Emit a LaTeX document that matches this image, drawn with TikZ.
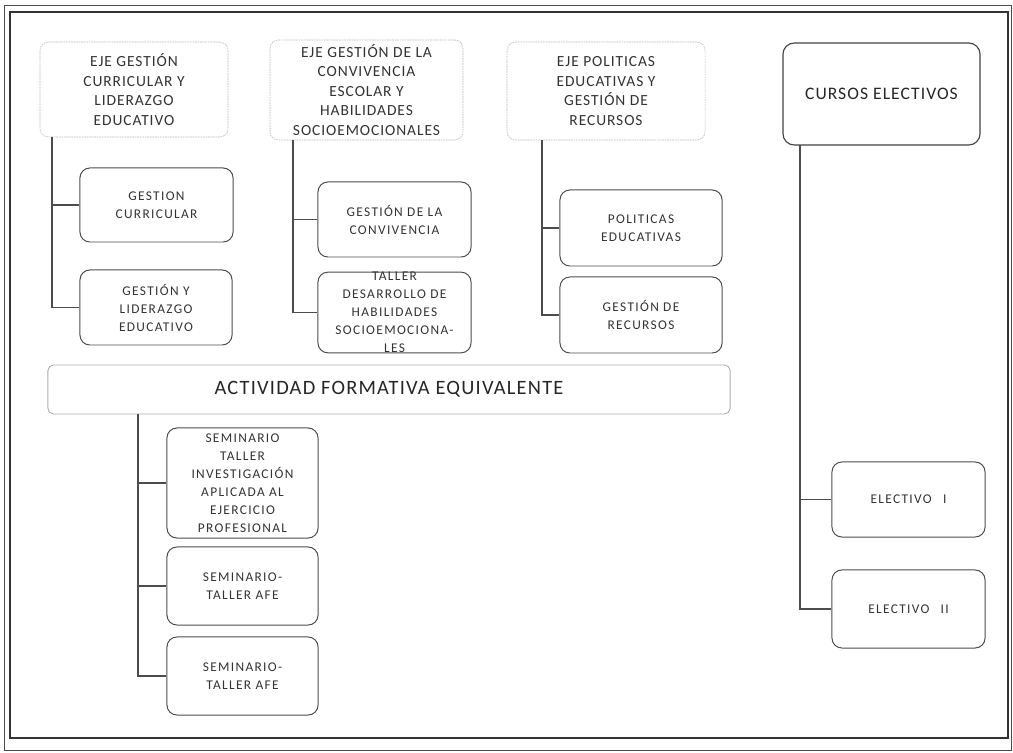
\documentclass[tikz,border=0pt]{standalone}
\usepackage{fontspec}
\setmainfont{Carlito}
\newfontfamily\spaced[LetterSpace=6]{Carlito}
\newfontfamily\wspaced[LetterSpace=10]{Carlito}
\begin{document}
\begin{tikzpicture}[x=0.025cm,y=-0.025cm,
  hdr/.style={draw=gray!55, dash pattern=on 1.2pt off 0.6pt, rounded corners=6pt, align=center, text=black!80, font=\spaced\fontsize{11}{13.8}\selectfont, inner sep=0pt},
  hdrsolid/.style={draw=black!75, line width=0.8pt, rounded corners=8pt, align=center, text=black!85, font=\spaced\fontsize{12.5}{14}\selectfont, inner sep=0pt},
  subbox/.style={draw=black!70, line width=0.7pt, rounded corners=7pt, align=center, text=black!80, font=\wspaced\fontsize{9.5}{12.8}\selectfont, inner sep=0pt},
  wide/.style={draw=gray!65, line width=0.6pt, rounded corners=4pt, align=center, text=black!85, font=\spaced\fontsize{14.5}{16}\selectfont, inner sep=0pt},
  link/.style={draw=black!70, line width=0.9pt}]
\useasboundingbox (0,0) rectangle (1013,753);
% frame
\draw[black!70, line width=0.5pt] (4,5) rectangle (1011,750);
\draw[black!80, line width=1pt] (10,12) rectangle (1008,738);
% headers
\node[hdr, minimum width=4.7cm, minimum height=2.375cm] (h1) at (134,89.5)
  {EJE GESTIÓN\\CURRICULAR  Y\\LIDERAZGO\\EDUCATIVO};
\node[hdr, minimum width=4.825cm, minimum height=2.5cm] (h2) at (366.5,90)
  {EJE GESTIÓN  DE LA\\CONVIVENCIA\\ESCOLAR  Y\\HABILIDADES\\SOCIOEMOCIONALES};
\node[hdr, minimum width=4.95cm, minimum height=2.45cm] (h3) at (606,91)
  {EJE POLITICAS\\EDUCATIVAS  Y\\GESTIÓN  DE\\RECURSOS};
\node[hdrsolid, minimum width=4.925cm, minimum height=2.55cm] (h4) at (881.5,94)
  {CURSOS ELECTIVOS};
% children column 1
\node[subbox, minimum width=3.825cm, minimum height=1.85cm] (c11) at (156.5,205)
  {GESTION\\CURRICULAR};
\node[subbox, minimum width=3.8cm, minimum height=1.875cm] (c12) at (156,307.5)
  {GESTIÓN Y\\LIDERAZGO\\EDUCATIVO};
% column 2
\node[subbox, minimum width=3.825cm, minimum height=1.875cm] (c21) at (394.5,219.5)
  {GESTIÓN DE LA\\CONVIVENCIA};
\node[subbox, minimum width=3.825cm, minimum height=1.875cm] (c22) at (394.5,312.5)
  {TALLER\\DESARROLLO DE\\HABILIDADES\\SOCIOEMOCIONA-\\LES};
% column 3
\node[subbox, minimum width=4.05cm, minimum height=1.9cm] (c31) at (641,228)
  {POLITICAS\\EDUCATIVAS};
\node[subbox, minimum width=4.05cm, minimum height=1.9cm] (c32) at (641,315)
  {GESTIÓN  DE\\RECURSOS};
% AFE
\node[wide, minimum width=17.05cm, minimum height=1.225cm] (afe) at (389,389.5)
  {ACTIVIDAD FORMATIVA EQUIVALENTE};
\node[subbox, minimum width=3.775cm, minimum height=2.75cm] (a1) at (242.5,483)
  {SEMINARIO\\TALLER\\INVESTIGACIÓN\\APLICADA AL\\EJERCICIO\\PROFESIONAL};
\node[subbox, minimum width=3.775cm, minimum height=1.95cm] (a2) at (242.5,586)
  {SEMINARIO-\\TALLER  AFE};
\node[subbox, minimum width=3.775cm, minimum height=1.95cm] (a3) at (242.5,676)
  {SEMINARIO-\\TALLER  AFE};
% electivos
\node[subbox, minimum width=3.825cm, minimum height=1.875cm] (e1) at (908.5,499.5)
  {ELECTIVO\hspace{8pt}I};
\node[subbox, minimum width=3.825cm, minimum height=1.95cm] (e2) at (908.5,609)
  {ELECTIVO\hspace{8pt}II};
% trunks
\coordinate (t1) at (52,137);
\coordinate (t2) at (293,140);
\coordinate (t3) at (542,140);
\coordinate (t4) at (800,145);
\coordinate (t5) at (138,414);
\draw[link] (t1) |- (c11.west);
\draw[link] (t1) |- (c12.west);
\draw[link] (t2) |- (c21.west);
\draw[link] (t2) |- (c22.west);
\draw[link] (t3) |- (c31.west);
\draw[link] (t3) |- (c32.west);
\draw[link] (t4) |- (e1.west);
\draw[link] (t4) |- (e2.west);
\draw[link] (t5) |- (a1.west);
\draw[link] (t5) |- (a2.west);
\draw[link] (t5) |- (a3.west);
\end{tikzpicture}
\end{document}
